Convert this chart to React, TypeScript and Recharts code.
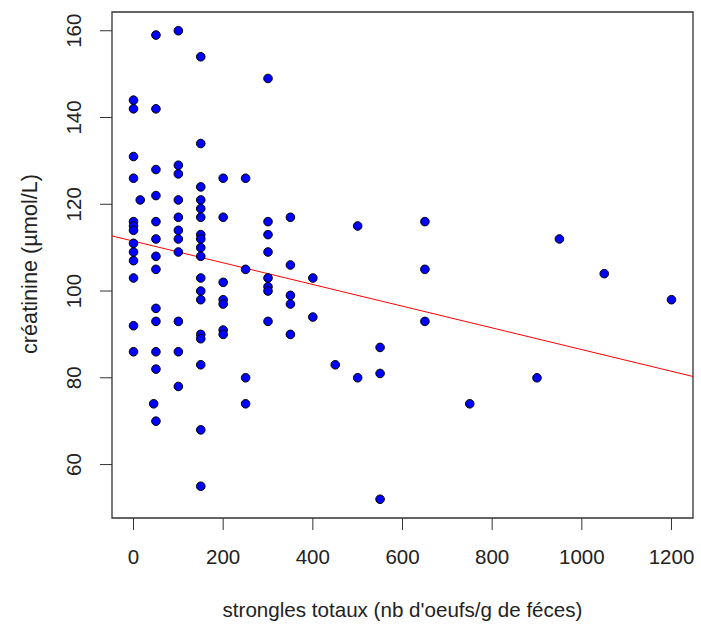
import { ScatterChart, Scatter, XAxis, YAxis, ReferenceArea, ReferenceLine, Label } from "recharts"

// egg counts (x) and creatinine values (y), one entry per animal
const eggCounts = [
  0, 0, 0, 0, 0, 0, 0, 0, 0, 0, 0, 0, 0,
  15, 45,
  50, 50, 50, 50, 50, 50, 50, 50, 50, 50, 50, 50, 50,
  100, 100, 100, 100, 100, 100, 100, 100, 100, 100, 100,
  150, 150, 150, 150, 150, 150, 150, 150, 150, 150, 150, 150, 150, 150, 150, 150, 150, 150,
  200, 200, 200, 200, 200, 200, 200,
  250, 250, 250, 250,
  300, 300, 300, 300, 300, 300, 300, 300,
  350, 350, 350, 350, 350,
  400, 400, 450, 500, 500, 550, 550, 550,
  650, 650, 650, 750, 900, 950, 1050, 1200,
]
const creatinine = [
  144, 142, 131, 126, 116, 115, 114, 111, 109, 107, 103, 92, 86,
  121, 74,
  159, 142, 128, 122, 116, 112, 108, 105, 96, 93, 86, 82, 70,
  160, 129, 127, 121, 117, 114, 112, 109, 93, 86, 78,
  154, 134, 124, 121, 119, 117, 113, 112, 110, 108, 103, 100, 98, 90, 89, 83, 68, 55,
  126, 117, 102, 98, 97, 91, 90,
  126, 105, 80, 74,
  149, 116, 113, 109, 103, 101, 100, 93,
  117, 106, 99, 97, 90,
  103, 94, 83, 115, 80, 87, 81, 52,
  116, 105, 93, 74, 80, 112, 104, 98,
]

const xTicks = [0, 200, 400, 600, 800, 1000, 1200]
const yTicks = [60, 80, 100, 120, 140, 160]

// fitted line
const intercept = 111.5
const slope = -0.025

const xDomain: [number, number] = [-48, 1248]
const yDomain: [number, number] = [47.68, 164.32]

const points = eggCounts.map((x, i) => ({ x, y: creatinine[i] }))

const font = "'Liberation Sans', Arial, sans-serif"
const ink = "#333"

function XTick({ x, payload }: any) {
  return (
    <text x={x} y={564} textAnchor="middle" fontFamily={font} fontSize={20.5} fill="#222">
      {payload.value}
    </text>
  )
}

function YTick({ y, payload }: any) {
  return (
    <text x={81} y={y} transform={`rotate(-90, 81, ${y})`} textAnchor="middle" fontFamily={font} fontSize={20.5} fill="#222">
      {payload.value}
    </text>
  )
}

function Dot(props: any) {
  return <circle cx={props.cx} cy={props.cy} r={4.3} fill="#0000ff" stroke="#000" strokeWidth={1} />
}

export default function App() {
  return (
    <div style={{ position: "absolute", left: 0, top: 0, background: "#fff" }}>
      <ScatterChart width={701} height={627} margin={{ top: 12, right: 8, bottom: 0, left: 0 }}>
        <XAxis
          type="number"
          dataKey="x"
          domain={xDomain}
          ticks={xTicks}
          allowDataOverflow
          height={109}
          tickSize={12}
          axisLine={false}
          tickLine={{ stroke: ink }}
          tick={<XTick />}
        >
          <Label
            content={() => (
              <text x={402.5} y={617} textAnchor="middle" fontFamily={font} fontSize={20.6} fill="#222">
                strongles totaux (nb d'oeufs/g de féces)
              </text>
            )}
          />
        </XAxis>
        <YAxis
          type="number"
          dataKey="y"
          domain={yDomain}
          ticks={yTicks}
          allowDataOverflow
          width={112}
          tickSize={12}
          axisLine={false}
          tickLine={{ stroke: ink }}
          tick={<YTick />}
        >
          <Label
            content={() => (
              <text x={37} y={264} transform="rotate(-90, 37, 264)" textAnchor="middle" fontFamily={font} fontSize={21.7} fill="#222">
                créatinine (µmol/L)
              </text>
            )}
          />
        </YAxis>
        <ReferenceArea x1={xDomain[0]} x2={xDomain[1]} y1={yDomain[0]} y2={yDomain[1]} fill="none" stroke={ink} strokeWidth={1.3} fillOpacity={0} />
        <ReferenceLine
          segment={[
            { x: xDomain[0], y: intercept + slope * xDomain[0] },
            { x: xDomain[1], y: intercept + slope * xDomain[1] },
          ]}
          stroke="#ff0000"
          strokeWidth={1}
        />
        <Scatter data={points} shape={<Dot />} isAnimationActive={false} />
      </ScatterChart>
    </div>
  )
}
